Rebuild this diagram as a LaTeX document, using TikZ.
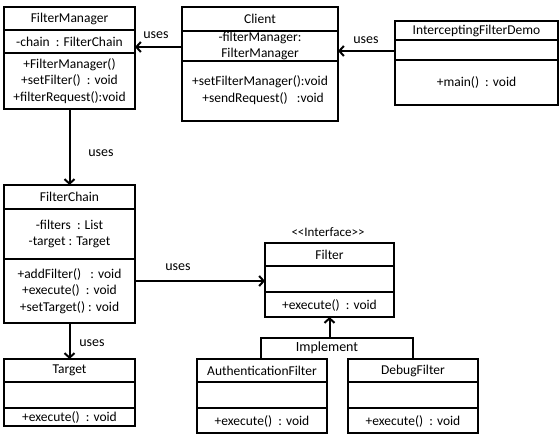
\documentclass[tikz,border=0pt]{standalone}
\usepackage{fontspec}
\setmainfont{Carlito}
\usetikzlibrary{arrows.meta}
\tikzset{
  cls/.style={draw, line width=1.7pt, anchor=north west, inner sep=0pt, outer sep=0pt},
  divline/.style={line width=1.7pt},
  txt/.style={font=\fontsize{13.5}{16.5}\selectfont, align=center, inner sep=0pt},
  uses/.style={line width=2pt, -{Straight Barb[length=4.5pt,width=10pt,line width=2pt]}},
  lbl/.style={font=\fontsize{14}{16}\selectfont, inner sep=0pt},
}
\newcommand{\umlcls}[7]{%
  \node[cls, minimum width=#4pt-#2pt, minimum height=#5pt-#3pt] (#1) at (#2,#3) {};
  \draw[divline] (#2,#6) -- (#4,#6);
  \draw[divline] (#2,#7) -- (#4,#7);
}
\begin{document}
\begin{tikzpicture}[x=1pt,y=-1pt]
\useasboundingbox (0,0) rectangle (560,438);
% classes
\umlcls{fm}{4}{7}{135}{109}{30}{53}
\umlcls{cl}{182}{7}{338}{121}{31}{61}
\umlcls{demo}{395}{21}{558}{105}{40}{60}
\umlcls{fc}{4}{185}{135}{323}{209}{259}
\umlcls{flt}{265}{243}{394}{317}{266}{292}
\umlcls{auth}{197}{359}{327}{433}{382}{408}
\umlcls{dbg}{348}{359}{478}{433}{382}{408}
\umlcls{tgt}{4}{359}{135}{426}{382}{408}
% texts
\node[txt] (fmt) at (69.5,18.5) {FilterManager};
\node[txt] (fma) at (69.5,41.5) {-chain~ : FilterChain};
\node[txt] (fmm) at (69.5,81) {+FilterManager()\\+setFilter()~ : void\\+filterRequest():void};
\node[txt] (clt) at (260,19) {Client};
\node[txt] (cla) at (260,46) {-filterManager:\\FilterManager};
\node[txt] (clm) at (260,90) {+setFilterManager():void\\\ \ +sendRequest()~ ~:void};
\node[txt] (demot) at (476.5,30.5) {InterceptingFilterDemo};
\node[txt] (demom) at (476.5,82.5) {+main()~ : void};
\node[txt] (fct) at (69.5,197) {FilterChain};
\node[txt] (fca) at (69.5,234) {-filters~ : List\\-target : Target};
\node[txt] (fcm) at (69.5,291) {+addFilter()~ ~: void\\+execute()~ : void\\+setTarget() : void};
\node[font=\fontsize{13}{14}\selectfont, inner sep=0pt] (iface) at (328,232) {{<}{<}Interface{>}{>}};
\node[txt] (fltt) at (329.5,254.5) {Filter};
\node[txt] (fltm) at (329.5,305) {+execute()~ : void};
\node[txt] (autht) at (262,370.5) {AuthenticationFilter};
\node[txt] (authm) at (262,421) {+execute()~ : void};
\node[txt] (dbgt) at (413,370.5) {DebugFilter};
\node[txt] (dbgm) at (413,421) {+execute()~ : void};
\node[txt] (tgtt) at (69.5,370.5) {Target};
\node[txt] (tgtm) at (69.5,417) {+execute()~ : void};
% connectors
\coordinate (y1) at (0,47);
\coordinate (y2) at (0,51);
\coordinate (y3) at (0,281);
\draw[uses] (cl.west |- y1) -- (fm.east |- y1);
\node[lbl] (u1) at (156,35) {uses};
\draw[uses] (demo.west |- y2) -- (cl.east |- y2);
\node[lbl] (u2) at (366,40) {uses};
\draw[uses] (fm.south) -- (fc.north);
\node[lbl] (u3) at (101,153) {uses};
\draw[uses] (fc.east |- y3) -- (flt.west |- y3);
\node[lbl] (u4) at (178,267) {uses};
\draw[uses] (fc.south) -- (tgt.north);
\node[lbl] (u5) at (92,343) {uses};
% implement
\coordinate (jL) at (261,338);
\coordinate (jR) at (413,338);
\coordinate (jM) at (329.5,338);
\draw[line width=2pt] (auth.north -| jL) -- (jL) -- (jR) -- (dbg.north -| jR);
\draw[uses] (jM) -- (flt.south);
\node[lbl] (impl) at (327,348) {Implement};
\end{tikzpicture}
\end{document}
